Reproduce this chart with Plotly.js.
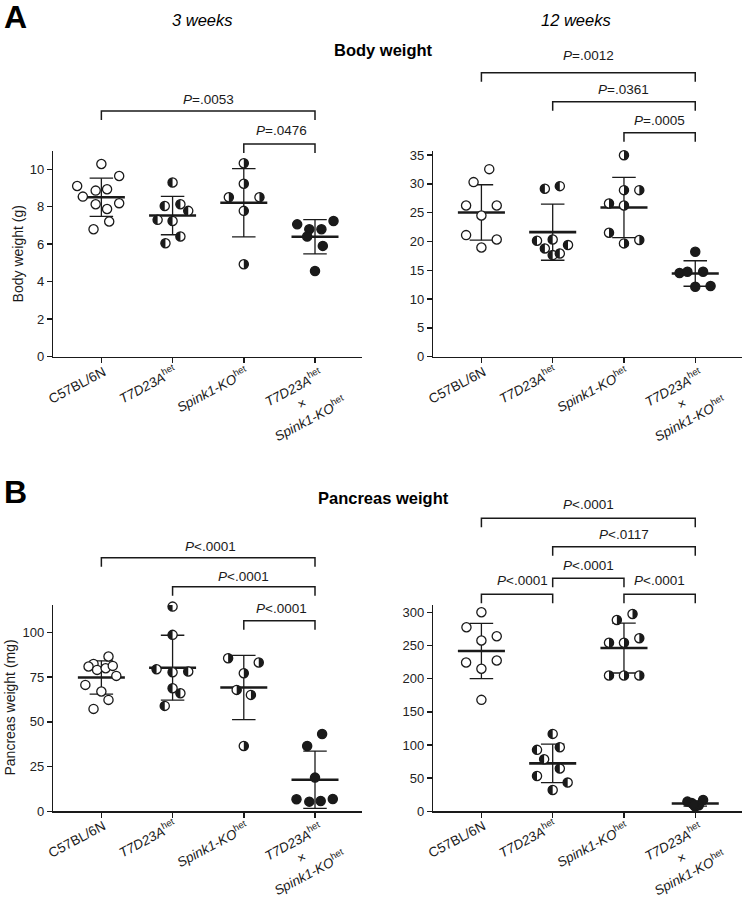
<!DOCTYPE html>
<html><head><meta charset="utf-8">
<script src="https://cdn.plot.ly/plotly-3.0.1.min.js"></script>
<style>html,body{margin:0;padding:0;background:#fff}#chart{width:747px;height:899px}</style>
</head><body><div id="chart"></div>
<script>
// ---------------- DATA ----------------
const categories = ['C57BL/6N', 'T7D23A het', 'Spink1-KO het', 'T7D23A het x Spink1-KO het'];
const tickLabels = [
  'C57BL/6N',
  '<i>T7D23A</i><sup>het</sup>',
  '<i>Spink1-KO</i><sup>het</sup>',
  '<i>T7D23A</i><sup>het</sup><br>×<br><i>Spink1-KO</i><sup>het</sup>'
];
const yTicksBW3 = [0, 2, 4, 6, 8, 10];
const yTicksBW12 = [0, 5, 10, 15, 20, 25, 30, 35];
const yTicksPW3 = [0, 25, 50, 75, 100];
const yTicksPW12 = [0, 50, 100, 150, 200, 250, 300];

// Body weight (g), 3 weeks
const bw3_wt = [10.28, 9.64, 9.11, 8.86, 8.93, 8.54, 8.13, 8.19, 7.88, 7.21, 6.80];
const bw3_t7 = [9.29, 8.04, 8.13, 7.78, 7.30, 7.24, 6.41, 6.05];
const bw3_sp = [10.32, 9.23, 8.51, 8.51, 7.78, 4.93];
const bw3_dk = [7.06, 7.24, 6.80, 6.80, 6.41, 5.91, 4.57];
// Body weight (g), 12 weeks
const bw12_wt = [32.56, 30.31, 26.26, 26.26, 24.52, 21.11, 20.36, 18.97];
const bw12_t7 = [29.15, 29.61, 20.13, 20.36, 18.80, 19.38, 17.64, 17.93];
const bw12_sp = [34.99, 28.92, 28.92, 26.61, 26.26, 21.52, 19.67, 20.25];
const bw12_dk = [18.22, 14.52, 14.76, 14.76, 12.15, 12.27];
// Pancreas weight (mg), 3 weeks
const pw3_wt = [86.57, 82.46, 80.97, 79.10, 80.04, 81.34, 75.75, 70.71, 66.98, 62.31, 57.28];
const pw3_t7 = [114.5, 98.7, 79.48, 77.80, 78.17, 68.84, 66.04, 58.96];
const pw3_sp = [85.63, 83.21, 77.24, 67.91, 65.11, 36.57];
const pw3_dk = [43.28, 36.57, 18.84, 6.72, 5.41, 5.78, 6.90];
// Pancreas weight (mg), 12 weeks
const pw12_wt = [300, 277.5, 264, 257.5, 224.3, 227.4, 214.8, 168.0];
const pw12_t7 = [116.7, 92.6, 96.6, 78.5, 64.4, 53.3, 43.3, 32.2];
const pw12_sp = [297.5, 288.5, 261, 254, 254, 204.7, 204.7, 204.7];
const pw12_dk = [14.6, 17.1, 7.0, 12.5, 9.0, 10.0];

// horizontal scatter of the dots (category units)
const bw3_wt_jit = [0, 0.25, -0.34, -0.08, 0.08, -0.26, -0.08, 0.25, 0.08, 0.11, -0.11];
const bw3_t7_jit = [0, -0.11, 0.11, 0.22, -0.21, 0, 0.11, -0.10];
const bw3_sp_jit = [0, 0, -0.21, 0.22, 0, 0];
const bw3_dk_jit = [-0.25, 0.26, -0.08, 0.09, -0.11, 0.11, 0];
const bw12_wt_jit = [0.11, -0.11, -0.215, 0.215, 0, -0.215, 0.215, 0];
const bw12_t7_jit = [-0.11, 0.10, -0.22, 0, -0.11, 0.215, 0, 0.10];
const bw12_sp_jit = [0, 0, 0.215, -0.21, 0, -0.21, 0, 0.215];
const bw12_dk_jit = [0, -0.22, -0.11, 0.11, 0, 0.215];
const pw3_wt_jit = [0.10, -0.11, -0.18, -0.06, 0.06, 0.16, 0.21, -0.225, 0, 0.10, -0.11];
const pw3_t7_jit = [0, 0, -0.225, 0, 0.22, 0, 0.11, -0.11];
const pw3_sp_jit = [-0.22, 0.21, 0, -0.10, 0.10, 0];
const pw3_dk_jit = [0.10, -0.11, 0, -0.26, -0.08, 0.08, 0.25];
const pw12_wt_jit = [0, -0.21, 0.215, 0, -0.215, 0.215, 0, 0];
const pw12_t7_jit = [0, -0.22, 0.10, -0.12, 0.10, -0.22, 0.21, 0];
const pw12_sp_jit = [0.12, -0.10, 0.215, -0.21, 0, -0.21, 0, 0.215];
const pw12_dk_jit = [-0.11, 0.11, 0, -0.05, 0.05, -0.02];

// significance brackets: [from, to, label]
const brBW3 = [[0, 3, '<i>P</i>=.0053'], [2, 3, '<i>P</i>=.0476']];
const brBW12 = [[0, 3, '<i>P</i>=.0012'], [1, 3, '<i>P</i>=.0361'], [2, 3, '<i>P</i>=.0005']];
const brPW3 = [[0, 3, '<i>P</i>&lt;.0001'], [1, 3, '<i>P</i>&lt;.0001'], [2, 3, '<i>P</i>&lt;.0001']];
const brPW12 = [[0, 3, '<i>P</i>&lt;.0001'], [1, 3, '<i>P</i>&lt;.0117'], [1, 2, '<i>P</i>&lt;.0001'], [0, 1, '<i>P</i>&lt;.0001'], [2, 3, '<i>P</i>&lt;.0001']];

// ---------------- LAYOUT / STYLE ----------------
const W = 747, H = 899;
const FONT = '"Liberation Sans", Arial, Helvetica, sans-serif';
const INK = '#1a1a1a';
const yp = py => (H - py) / H;
const fills = ['open', 'left', 'right', 'solid'];

const panels = [
  {vals: [bw3_wt, bw3_t7, bw3_sp, bw3_dk], jit: [bw3_wt_jit, bw3_t7_jit, bw3_sp_jit, bw3_dk_jit],
   xd: [53.3, 362], yd: [356.7, 150.5], yr: [0, 11.0], ticks: yTicksBW3,
   br: brBW3, brLine: [111, 144], brText: [99, 131], brShift: [0, 2]},
  {vals: [bw12_wt, bw12_t7, bw12_sp, bw12_dk], jit: [bw12_wt_jit, bw12_t7_jit, bw12_sp_jit, bw12_dk_jit],
   xd: [433.3, 742.3], yd: [356.7, 150.5], yr: [0, 35.8], ticks: yTicksBW12,
   br: brBW12, brLine: [72.7, 101.7, 132.7], brText: [55.7, 89, 120.7], brShift: [0, 0, 0]},
  {vals: [pw3_wt, pw3_t7, pw3_sp, pw3_dk], jit: [pw3_wt_jit, pw3_t7_jit, pw3_sp_jit, pw3_dk_jit],
   xd: [53.3, 362], yd: [811.3, 605], yr: [0, 115.4], ticks: yTicksPW3,
   br: brPW3, brLine: [557.7, 586.7, 620.7], brText: [546.7, 576, 608.3], brShift: [2, 0, 2]},
  {vals: [pw12_wt, pw12_t7, pw12_sp, pw12_dk], jit: [pw12_wt_jit, pw12_t7_jit, pw12_sp_jit, pw12_dk_jit],
   xd: [433.3, 742.3], yd: [811.3, 605], yr: [0, 311], ticks: yTicksPW12,
   br: brPW12, brLine: [518.3, 546.7, 578.3, 594.3, 594.3], brText: [504.3, 534, 565.7, 580, 580], brShift: [0, 0, 0, 5, 0]}
];

const BR_DROP = 9;
const CAP = 0.165, MEAN_W = 0.33, R = 4.6;
const K = 0.5523 * R;
function halfPath(side) {
  const s = side === 'left' ? -1 : 1;
  return `M0,${-R} C${s*K},${-R} ${s*R},${-K} ${s*R},0 C${s*R},${K} ${s*K},${R} 0,${R} Z`;
}
// label centre offsets from tick (px)
const labOff = [[-24.5, 28.5], [-25, 27], [-31.5, 32.5], [-13.5, 45.5]];

const traces = [], shapes = [], annotations = [];
const layout = {
  width: W, height: H, margin: {l: 0, r: 0, t: 0, b: 0},
  paper_bgcolor: '#fff', plot_bgcolor: 'rgba(0,0,0,0)',
  showlegend: false, font: {family: FONT, color: INK}
};

panels.forEach((p, i) => {
  const s = i === 0 ? '' : String(i + 1);
  const xr = 'x' + s, yr = 'y' + s;
  layout['xaxis' + s] = {
    domain: [p.xd[0] / W, p.xd[1] / W], range: [-0.675, 3.66], anchor: yr,
    showline: true, linecolor: INK, linewidth: 1.5, ticks: 'outside', ticklen: 5, tickwidth: 1.5,
    tickcolor: INK, tickvals: [0, 1, 2, 3], showticklabels: false, showgrid: false, zeroline: false,
    fixedrange: true
  };
  layout['yaxis' + s] = {
    domain: [yp(p.yd[0]), yp(p.yd[1])], range: p.yr, anchor: xr,
    showline: true, linecolor: INK, linewidth: 1.5, ticks: 'outside', ticklen: 5, tickwidth: 1.5,
    tickcolor: INK, tickvals: p.ticks, ticktext: p.ticks.map(String),
    tickfont: {family: FONT, size: 13, color: '#222'}, showgrid: false, zeroline: false,
    fixedrange: true
  };
  p.vals.forEach((vals, c) => {
    const n = vals.length;
    const m = vals.reduce((a, b) => a + b, 0) / n;
    const sd = Math.sqrt(vals.reduce((a, b) => a + (b - m) ** 2, 0) / (n - 1));
    traces.push({type: 'scatter', mode: 'lines', xaxis: xr, yaxis: yr, hoverinfo: 'skip',
      x: [c - CAP, c + CAP, null, c, c, null, c - CAP, c + CAP],
      y: [m + sd, m + sd, null, m - sd, m + sd, null, m - sd, m - sd],
      line: {color: INK, width: 1.3}});
    traces.push({type: 'scatter', mode: 'lines', xaxis: xr, yaxis: yr, hoverinfo: 'skip',
      x: [c - MEAN_W, c + MEAN_W], y: [m, m], line: {color: INK, width: 2.6}});
    const xs = vals.map((v, k) => c + p.jit[c][k]);
    traces.push({type: 'scatter', mode: 'markers', xaxis: xr, yaxis: yr, cliponaxis: false,
      name: categories[c], x: xs, y: vals,
      marker: {size: 2 * R, color: fills[c] === 'solid' ? INK : '#fff', line: {color: INK, width: 1.3}}});
    if (fills[c] === 'left' || fills[c] === 'right') {
      vals.forEach((v, k) => {
        shapes.push({type: 'path', xref: xr, yref: yr, xsizemode: 'pixel', ysizemode: 'pixel',
          xanchor: xs[k], yanchor: v, path: halfPath(fills[c]), fillcolor: INK,
          line: {width: 0}, layer: 'above'});
      });
    }
  });
  // brackets
  p.br.forEach((b, k) => {
    const yt = yp(p.brLine[k]), yb = yp(p.brLine[k] + BR_DROP);
    shapes.push({type: 'path', xref: xr, yref: 'paper',
      path: `M${b[0]},${yb} L${b[0]},${yt} L${b[1]},${yt} L${b[1]},${yb}`,
      line: {color: INK, width: 1.5}});
    annotations.push({xref: xr, yref: 'paper', x: (b[0] + b[1]) / 2, y: yp(p.brText[k]),
      xshift: p.brShift[k], text: b[2], showarrow: false, xanchor: 'center', yanchor: 'middle',
      font: {family: FONT, size: 13.5, color: INK}});
  });
  // category labels
  tickLabels.forEach((t, c) => {
    annotations.push({xref: xr, yref: 'paper', x: c, xshift: labOff[c][0], y: yp(p.yd[0] + labOff[c][1]),
      text: t, showarrow: false, textangle: -28, xanchor: 'center', yanchor: 'middle', align: 'center',
      font: {family: FONT, size: 13.5, color: INK}});
  });
});

// titles and panel letters
const txt = (x, y, text, size, extra) => Object.assign({xref: 'paper', yref: 'paper', x: x / W, y: yp(y),
  text, showarrow: false, xanchor: 'center', yanchor: 'middle', font: {family: FONT, size, color: '#000'}}, extra || {});
annotations.push(txt(15.8, 16.7, '<b>A</b>', 32));
annotations.push(txt(15.3, 491.7, '<b>B</b>', 32));
annotations.push(txt(202.5, 20, '<i>3 weeks</i>', 16.5));
annotations.push(txt(576, 20, '<i>12 weeks</i>', 16.5));
annotations.push(txt(383.7, 50, '<b>Body weight</b>', 16.5));
annotations.push(txt(383.3, 498.3, '<b>Pancreas weight</b>', 16.5));
annotations.push(txt(17.8, 253.6, 'Body weight (g)', 14, {textangle: -90, font: {family: FONT, size: 14, color: INK}}));
annotations.push(txt(9.5, 708, 'Pancreas weight (mg)', 14, {textangle: -90, font: {family: FONT, size: 14, color: INK}}));

layout.shapes = shapes;
layout.annotations = annotations;
Plotly.newPlot('chart', traces, layout, {staticPlot: true, displayModeBar: false});
</script>
</body></html>
